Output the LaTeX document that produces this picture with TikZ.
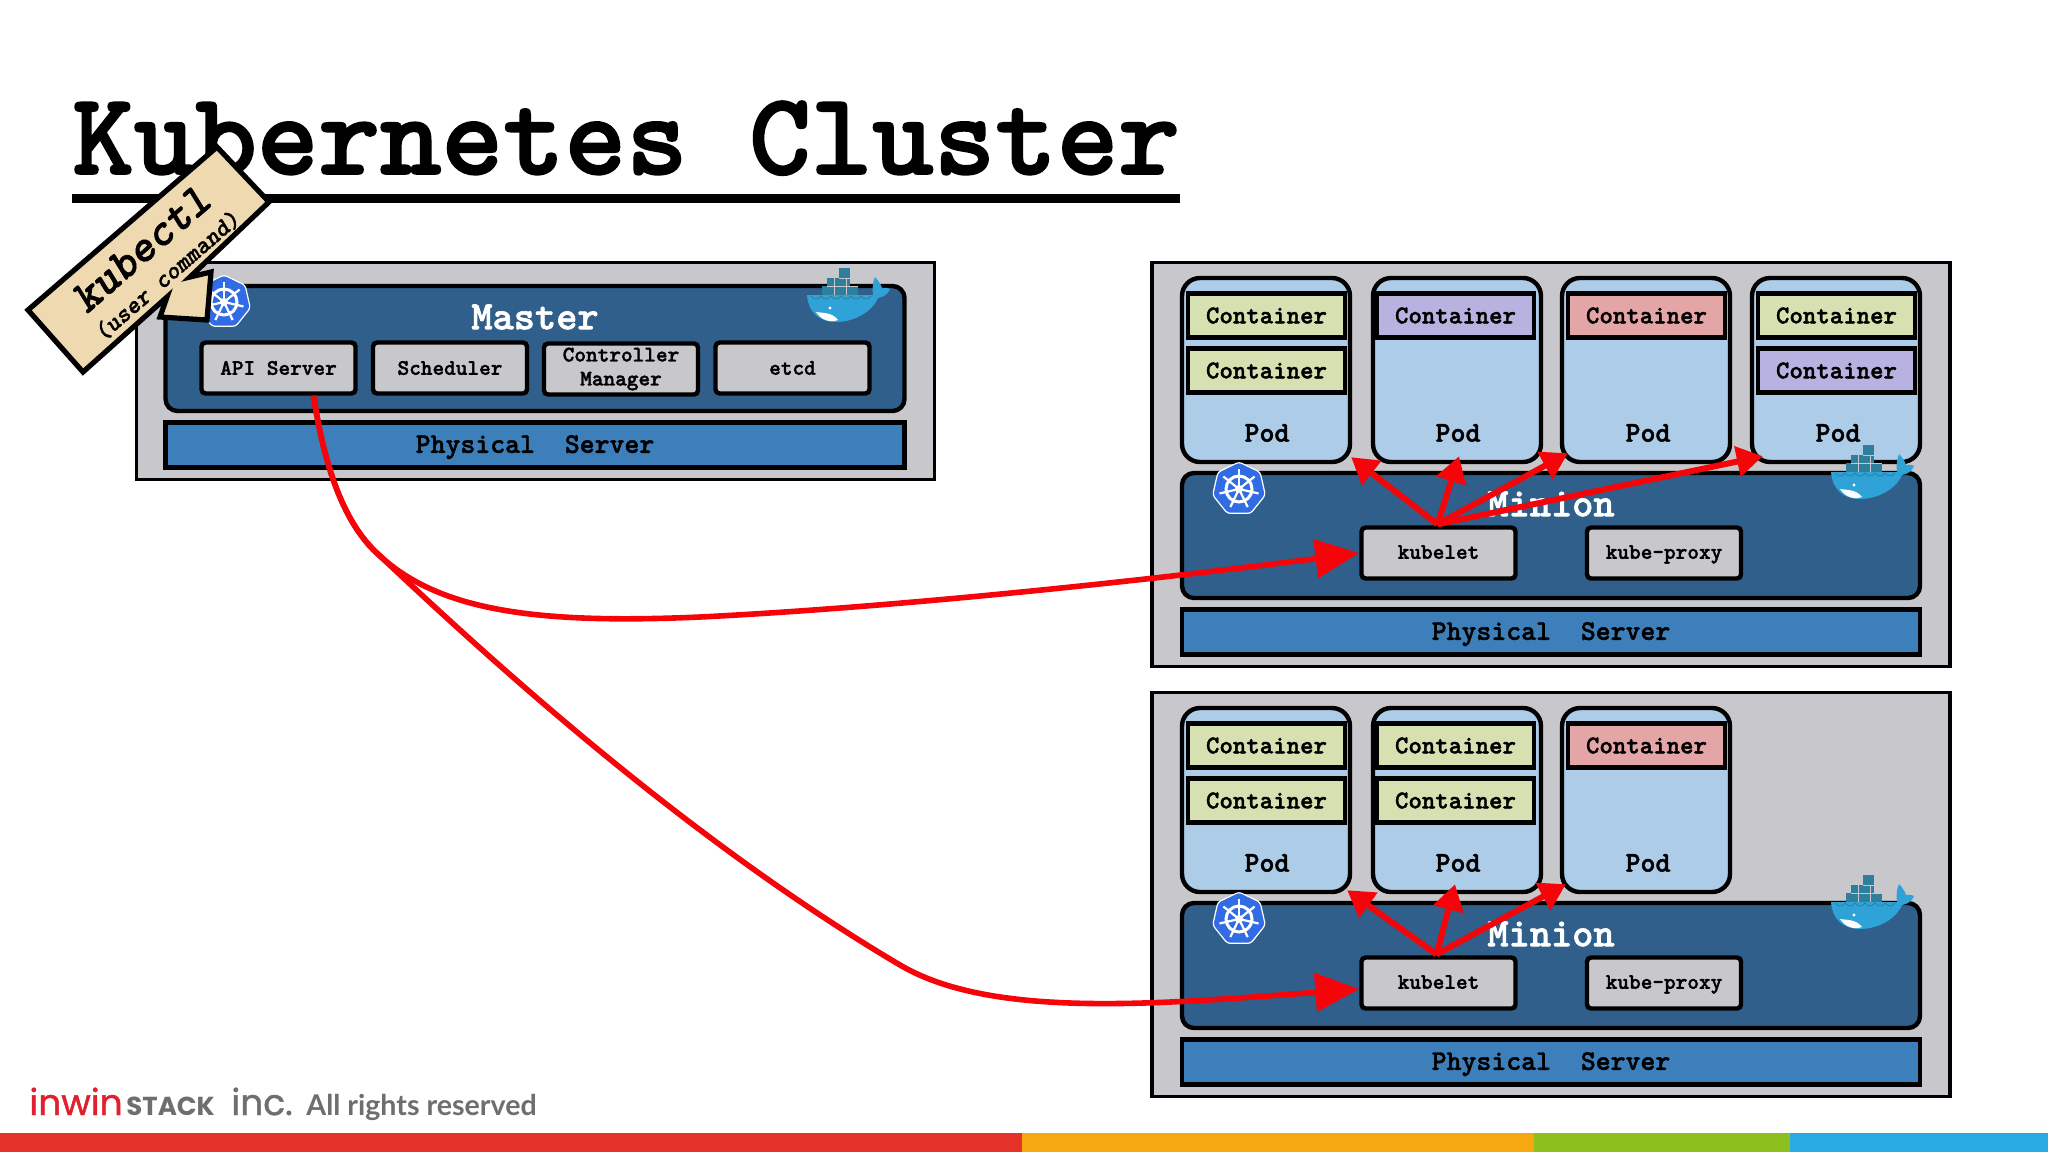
\documentclass[tikz,border=0pt]{standalone}
\usepackage{fontspec}
\usetikzlibrary{arrows.meta}
\setmainfont{lmmonolt10-bold.otf}[FakeBold=1.6,ItalicFont=lmmonolt10-boldoblique.otf,ItalicFeatures={FakeBold=1.2}]
\newfontfamily\logofont{Poppins}[FakeBold=1.2]
\newfontfamily\stackfont{Poppins Bold}
\newfontfamily\rightsfont{Lato}
\def\px{0.5pt}
\def\fs#1{\fontsize{#1}{12pt}\selectfont}
\definecolor{shellgray}{HTML}{C8C7CB}
\definecolor{coreblue}{HTML}{2F5F8A}
\definecolor{serverblue}{HTML}{3D7FBA}
\definecolor{podblue}{HTML}{ADCCE8}
\definecolor{cgreen}{HTML}{D6E0B0}
\definecolor{cpurple}{HTML}{B8B2E0}
\definecolor{cred}{HTML}{E3A5A5}
\definecolor{signtan}{HTML}{EFD9B0}
\definecolor{arrowred}{HTML}{F5050A}
\definecolor{helmblue}{HTML}{326CE5}
\definecolor{whaleblue}{HTML}{2FA3D8}
\definecolor{crateteal}{HTML}{2E7F9C}
\definecolor{logored}{HTML}{E0202C}
\definecolor{logogray}{HTML}{6E6E70}
\definecolor{barred}{HTML}{E63329}
\definecolor{barorange}{HTML}{F5A810}
\definecolor{bargreen}{HTML}{8DBF1E}
\definecolor{barblue}{HTML}{29ABE2}
\begin{document}
\begin{tikzpicture}[x=\px,y=-\px,
    pics/helm/.style={code={
      \filldraw[fill=helmblue,draw=white,line width=0.6pt,rounded corners=1.5pt] (-90:27) -- (-38.6:27) -- (12.9:27) -- (64.3:27) -- (115.7:27) -- (167.1:27) -- (218.6:27) -- cycle;
      \draw[white,line width=1.5pt] (0,0) circle (13);
      \foreach \a in {-90,-38.6,12.9,64.3,115.7,167.1,218.6}
          \draw[white,line width=1.1pt] (0,0) -- (\a:20);
      \fill[white] (0,0) circle (4);
    }},
    pics/whale/.style={code={
      \fill[crateteal] (-7,-27) rectangle (4,-17);
      \fill[crateteal] (-19,-17) rectangle (4,-9);
      \fill[crateteal] (-24,-9) rectangle (12,0);
      \draw[shellgray,line width=0.3pt] (-7,-17) -- (4,-17) (-19,-9) -- (12,-9) (-12,-17) -- (-12,0) (0,-17) -- (0,0);
      \fill[whaleblue] (-39,0) -- (27,0) .. controls (26,-8) and (27,-14) .. (29,-18)
          .. controls (33,-14) and (35,-10) .. (36,-7) .. controls (39,-8) and (42,-7) .. (44,-6)
          .. controls (42,-1) and (38,2) .. (32,3) .. controls (26,17) and (8,27) .. (-10,27)
          .. controls (-28,27) and (-38,16) .. (-39,0) -- cycle;
      \foreach \s in {-35,-25,...,15}
          \draw[crateteal,line width=0.4pt] (\s,1) .. controls (\s+3,5) and (\s+7,5) .. (\s+10,1);
      \fill[white] (-30,17) .. controls (-24,18) and (-14,17) .. (-8,25) .. controls (-16,28) and (-25,25) .. (-30,17) -- cycle;
      \fill[white] (-16,13) circle (1.6);
    }}]
      \tikzstyle{outer box}=[draw=black,fill=shellgray,line width=1.6pt,inner sep=0pt]
      \tikzstyle{core box}=[draw=black,fill=coreblue,line width=2.2pt,rounded corners=6pt,inner sep=0pt,minimum height=125*\px]
      \tikzstyle{server box}=[draw=black,fill=serverblue,line width=2.2pt,inner sep=0pt,minimum height=45*\px,text depth=1pt,font=\fs{14.2}]
      \tikzstyle{part box}=[draw=black,fill=shellgray,line width=2.2pt,rounded corners=2pt,inner sep=0pt,minimum width=154*\px,minimum height=51*\px,font=\fs{11.1},align=center]
      \tikzstyle{pod box}=[draw=black,fill=podblue,line width=2.2pt,rounded corners=9pt,inner sep=0pt,minimum width=168*\px,minimum height=184*\px]
      \tikzstyle{container box}=[draw=black,line width=2.2pt,inner sep=0pt,minimum width=157*\px,minimum height=44*\px,font=\fs{12.8}]
      \tikzstyle{annot}=[inner sep=0pt,font=\fs{14.3}]
      \tikzstyle{core title}=[inner sep=0pt,text=white,font=\fs{20.2}]
      \tikzstyle{small wire}=[draw=arrowred,line width=3pt,-{Triangle[length=13pt,width=15pt]}]
      \tikzstyle{big wire}=[draw=arrowred,line width=2.8pt,-{Triangle[length=22pt,width=19pt]}]

      \useasboundingbox (0,0) rectangle (2048,1152);

      % Title and footer
      \node[anchor=base west,inner sep=0pt,font=\fs{58.6}] (title) at (72,174) {Kubernetes Cluster};
      \fill (72,194) rectangle (1180,203);
      \fill[barred] (0,1133) rectangle (1022,1152);
      \fill[barorange] (1022,1133) rectangle (1534,1152);
      \fill[bargreen] (1534,1133) rectangle (1790,1152);
      \fill[barblue] (1790,1133) rectangle (2048,1152);
      \node[anchor=base west,inner sep=0pt,text=logored,font=\logofont\fs{18}] (logoa) at (29,1115) {inwin};
      \node[anchor=base west,inner sep=0pt,text=logogray,font=\stackfont\fs{13}] (logob) at (126,1115) {STACK};
      \node[anchor=base west,inner sep=0pt,text=logogray,font=\logofont\fs{18}] (logoc) at (231,1115) {inc.};
      \node[anchor=base west,inner sep=0pt,text=logogray,font=\rightsfont\bfseries\fs{14.3}] (logod) at (306,1115) {All rights reserved};

      % Draw the master
      \node[outer box,minimum width=798*\px,minimum height=217*\px] (M) at (535.5,371) {};
      \node[core box,minimum width=739*\px] (M-core) at (535,348.5) {};
      \node[core title] (M-title) at (535,317) {Master};
      \node[server box,minimum width=739*\px] (M-server) at (535,445) {Physical\ \ Server};
      \node[part box] (api) at (278.5,368) {API Server};
      \node[part box] (sched) at (450,368) {Scheduler};
      \node[part box] (ctrl) at (621,369) {Controller\\Manager};
      \node[part box] (etcd) at (792.5,368) {etcd};
      \pic (M-helm) at (224,302) {helm};
      \pic (M-whale) at (846,295) {whale};

      % Draw the minions
      \foreach \name / \y in {A/0,B/430} {
          \node[outer box,minimum width=798*\px,minimum height=404*\px] (\name) at (1551,464.5+\y) {};
          \foreach \pod / \x in {1/1266,2/1457,3/1646}
              \node[pod box] (\name-pod\pod) at (\x,370+\y) {};
          \node[core box,minimum width=738*\px] (\name-core) at (1551,535.5+\y) {};
          \node[core title] (\name-title) at (1551,504+\y) {Minion};
          \node[server box,minimum width=738*\px] (\name-server) at (1551,632+\y) {Physical\ \ Server};
          \node[part box,text depth=1pt] (\name-kubelet) at (1438.5,553+\y) {kubelet};
          \node[part box,text depth=1pt] (\name-proxy) at (1664,553+\y) {kube-proxy};
          \pic (\name-helm) at (1239,489+\y) {helm};
      }
      \node[pod box] (A-pod4) at (1836,370) {};
      \pic (A-whale) at (1870,472) {whale};
      \pic (B-whale) at (1870,902) {whale};

      % Draw the containers
      \foreach \name / \x / \y / \col in {a1/1266.5/315.5/cgreen,a2/1266.5/370.5/cgreen,a3/1455.5/315.5/cpurple,a4/1646.5/315.5/cred,a5/1836.5/315.5/cgreen,a6/1836.5/370.5/cpurple,b1/1266.5/745.5/cgreen,b2/1266.5/800.5/cgreen,b3/1455.5/745.5/cgreen,b4/1455.5/800.5/cgreen,b5/1646.5/745.5/cred}
          \node[container box,fill=\col] (c-\name) at (\x,\y) {Container};
      \foreach \name / \x / \y in {a1/1267/433,a2/1458/433,a3/1648/433,a4/1838/433,b1/1267/863,b2/1458/863,b3/1648/863}
          \node[annot] (pod-\name) at (\x,\y) {Pod};

      % kubectl sign
      \draw[black,line width=2.6pt,fill=signtan,line join=miter] (217,147) -- (269,202) -- (190,277) -- (211,272) -- (207,320) -- (160,317) -- (167,297) -- (83,372) -- (28,310) -- cycle;
      \node[rotate=41,inner sep=0pt,font=\itshape\fs{22.8}] (kubectl) at (141,249) {kubectl};
      \node[rotate=41,inner sep=0pt,font=\itshape\fs{12.5}] (usercmd) at (167,276) {(user command)};

      % Connect the kubelet with the pods
      \draw[small wire] ([shift={(-1,-1)}]A-kubelet.north) -- ([shift={(-1,-7)}]A-pod1.south east);
      \draw[small wire] ([shift={(-1,-1)}]A-kubelet.north) -- ([shift={(2,-8)}]A-pod2.south);
      \draw[small wire] ([shift={(-1,-1)}]A-kubelet.north) -- ([shift={(8,-11)}]A-pod3.south west);
      \draw[small wire] ([shift={(-1,-1)}]A-kubelet.north) -- ([shift={(13,-8)}]A-pod4.south west);
      \draw[small wire] ([shift={(-2,-1)}]B-kubelet.north) -- ([shift={(-5,-4)}]B-pod1.south east);
      \draw[small wire] ([shift={(-2,-1)}]B-kubelet.north) -- ([shift={(-2,-10)}]B-pod2.south);
      \draw[small wire] ([shift={(-2,-1)}]B-kubelet.north) -- ([shift={(6,-10)}]B-pod3.south west);

      % Connect the API server with the kubelets
      \coordinate (fork) at (379,555);
      \draw[big wire] ([xshift=35*\px]api.south) .. controls (325,470) and (345,525) .. (fork)
          .. controls (440,612) and (540,624) .. (700,617) .. controls (900,607) and (1150,580) .. (A-kubelet.west);
      \draw[big wire] ([xshift=35*\px]api.south) .. controls (325,470) and (345,525) .. (fork)
          .. controls (480,650) and (680,835) .. (900,965) .. controls (990,1018) and (1150,1005) .. ([yshift=-6*\px]B-kubelet.west);
\end{tikzpicture}
\end{document}
